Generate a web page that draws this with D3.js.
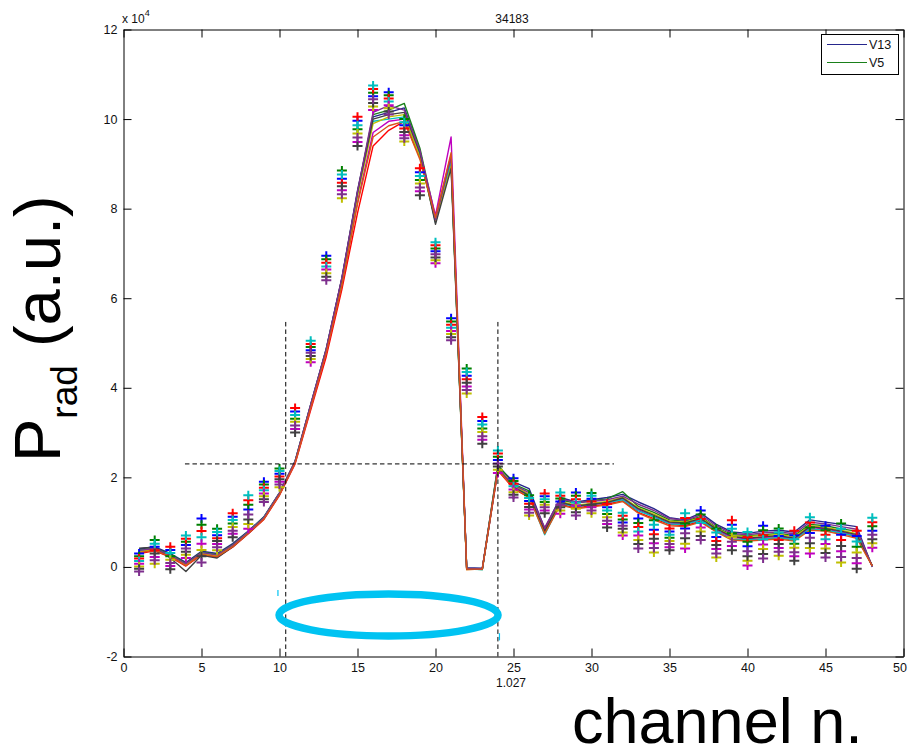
<!DOCTYPE html>
<html>
<head>
<meta charset="utf-8">
<script src="https://cdn.jsdelivr.net/npm/d3@7"></script>
<style>
  html, body { margin: 0; padding: 0; background: #fff; }
  svg { display: block; font-family: "Liberation Sans", Arial, Helvetica, sans-serif; }
</style>
</head>
<body>
<svg id="chart" width="908" height="747"></svg>
<script>
// ---- channel axis and tick values ----
const channels = [1,2,3,4,5,6,7,8,9,10,11,12,13,14,15,16,17,18,19,20,21,22,23,24,
                  25,26,27,28,29,30,31,32,33,34,35,36,37,38,39,40,41,42,43,44,45,46,47,48];
const xTicks = [0,5,10,15,20,25,30,35,40,45,50];
const yTicks = [-2,0,2,4,6,8,10,12];
const plotTitle = "34183";
const xNote = "1.027";

// ---- radiated power traces (units of 1e4) ----
const traceV13 = [0.40,0.45,0.30,0.10,0.35,0.30,0.52,0.80,1.12,1.66,2.36,3.62,4.88,6.45,8.40,10.05,10.15,10.25,9.30,7.70,9.00,-0.02,-0.03,2.25,
                  1.90,1.75,0.85,1.55,1.45,1.50,1.55,1.62,1.45,1.30,1.10,1.05,1.20,0.95,0.78,0.75,0.80,0.82,0.78,1.05,1.00,0.95,0.90,0.00];
const traceV5  = [0.38,0.42,0.28,0.08,0.33,0.28,0.50,0.79,1.11,1.65,2.34,3.58,4.84,6.42,8.35,10.10,10.20,10.35,9.35,7.80,9.05,-0.04,-0.06,2.28,
                  1.85,1.70,0.75,1.50,1.42,1.48,1.52,1.68,1.35,1.22,1.05,1.02,1.12,0.88,0.72,0.70,0.72,0.75,0.70,0.95,0.92,0.85,0.80,0.02];
const traceV7  = [0.30,0.36,0.22,0.02,0.27,0.22,0.44,0.74,1.06,1.60,2.30,3.50,4.70,6.20,7.90,9.40,9.75,9.95,9.15,7.80,9.20,-0.06,-0.05,2.15,
                  1.75,1.55,0.85,1.40,1.32,1.36,1.40,1.48,1.22,1.08,0.95,0.92,1.02,0.80,0.62,0.60,0.63,0.65,0.60,0.85,0.82,0.75,0.68,0.03];
const traceV9  = [0.33,0.38,0.24,0.04,0.29,0.24,0.46,0.76,1.08,1.62,2.33,3.56,4.80,6.32,8.15,9.70,9.95,10.00,9.25,7.85,9.60,-0.05,-0.04,2.18,
                  1.78,1.58,0.82,1.43,1.35,1.39,1.43,1.52,1.28,1.12,0.98,0.96,1.05,0.83,0.66,0.63,0.66,0.68,0.63,0.88,0.85,0.78,0.70,0.02];
const traceV11 = [0.36,0.40,0.26,0.06,0.31,0.26,0.48,0.78,1.10,1.64,2.36,3.62,4.86,6.42,8.32,9.95,10.00,10.05,9.20,7.70,9.05,-0.05,-0.06,2.20,
                  1.80,1.58,0.72,1.42,1.35,1.40,1.44,1.50,1.25,1.12,0.96,0.95,1.05,0.80,0.62,0.60,0.62,0.66,0.60,0.85,0.82,0.76,0.68,0.02];
const traceV15 = [0.34,0.39,0.25,0.05,0.30,0.25,0.47,0.77,1.09,1.64,2.35,3.60,4.85,6.38,8.28,9.90,10.05,10.10,9.15,7.72,8.95,-0.06,-0.05,2.22,
                  1.82,1.62,0.78,1.46,1.38,1.42,1.46,1.56,1.32,1.18,1.02,1.00,1.10,0.86,0.70,0.68,0.70,0.72,0.68,0.92,0.88,0.82,0.74,0.02];
const traceV17 = [0.42,0.44,0.20,-0.10,0.26,0.20,0.45,0.75,1.08,1.63,2.35,3.61,4.86,6.44,8.36,10.00,10.10,10.15,9.25,7.65,8.90,-0.05,-0.05,2.21,
                  1.78,1.60,0.80,1.44,1.36,1.40,1.44,1.54,1.30,1.15,1.00,0.98,1.08,0.85,0.68,0.64,0.67,0.70,0.64,0.90,0.86,0.80,0.72,0.02];
const traceV19 = [0.37,0.41,0.26,0.07,0.32,0.27,0.49,0.78,1.10,1.65,2.36,3.63,4.87,6.46,8.38,10.15,10.30,10.20,9.30,7.75,9.15,-0.04,-0.05,2.19,
                  1.83,1.66,0.88,1.52,1.44,1.46,1.50,1.58,1.40,1.26,1.08,1.04,1.16,0.92,0.75,0.72,0.76,0.78,0.74,1.00,0.96,0.90,0.84,0.01];
const traceV21 = [0.32,0.37,0.23,0.03,0.28,0.23,0.45,0.75,1.07,1.61,2.32,3.55,4.78,6.28,8.10,9.60,9.85,9.95,9.10,7.80,9.25,-0.05,-0.05,2.17,
                  1.76,1.55,0.74,1.38,1.30,1.34,1.38,1.46,1.20,1.05,0.92,0.90,1.00,0.78,0.60,0.58,0.60,0.62,0.58,0.82,0.80,0.72,0.64,0.02];

// ---- per-channel measured points (units of 1e4) ----
const points1 = [0.30,0.45,0.38,0.49,1.08,0.71,1.12,1.28,1.90,2.08,3.47,4.84,6.95,8.67,9.96,10.51,10.60,9.86,8.81,7.05,5.55,4.27,3.26,2.39,
                 1.98,1.47,1.58,1.46,1.66,1.52,1.33,0.99,1.08,0.83,0.79,0.86,1.26,0.67,0.94,0.46,0.92,0.69,0.71,0.76,0.92,0.72,0.69,0.81];
const points2 = [0.24,0.60,0.24,0.56,0.94,0.85,0.97,1.39,1.84,2.20,3.31,4.91,6.87,8.85,9.77,10.59,10.53,10.00,8.64,7.11,5.48,4.43,3.09,2.46,
                 1.92,1.60,1.45,1.53,1.59,1.65,1.18,1.06,0.98,1.04,0.65,0.97,1.17,0.86,0.75,0.56,0.82,0.86,0.52,0.88,0.82,0.97,0.45,0.91];
const points3 = [0.19,0.37,0.45,0.63,0.80,0.64,1.20,1.49,1.77,2.02,3.55,4.98,6.79,8.58,10.05,10.67,10.46,9.79,8.90,7.18,5.41,4.19,3.35,2.53,
                 1.86,1.41,1.64,1.59,1.51,1.46,1.41,1.14,0.89,0.73,0.86,1.09,1.07,0.58,1.04,0.67,0.71,0.60,0.81,0.99,0.72,0.60,0.81,1.00];
const points4 = [0.13,0.52,0.31,0.70,0.66,0.78,1.05,1.60,1.71,2.14,3.39,5.05,6.71,8.76,9.86,10.75,10.39,9.93,8.73,7.25,5.34,4.35,3.18,2.60,
                 1.80,1.54,1.51,1.66,1.44,1.59,1.26,1.21,0.79,0.94,0.72,1.20,0.98,0.77,0.85,0.78,0.61,0.77,0.62,1.11,0.62,0.85,0.57,1.10];
const points5 = [0.07,0.22,0.02,0.20,0.52,0.51,0.74,0.85,1.64,1.90,3.08,4.57,6.64,8.41,9.49,10.20,10.31,9.64,8.39,6.78,5.27,4.03,2.84,2.10,
                 1.73,1.28,1.26,1.19,1.37,1.33,0.96,0.70,0.70,0.53,0.44,0.41,0.88,0.40,0.47,0.03,0.50,0.42,0.24,0.30,0.51,0.35,0.08,0.43];
const points6 = [0.01,0.07,0.16,0.27,0.38,0.37,0.89,0.96,1.58,1.78,3.24,4.64,6.56,8.23,9.68,10.28,10.24,9.50,8.56,6.85,5.20,3.87,3.01,2.17,
                 1.67,1.15,1.39,1.26,1.30,1.20,1.11,0.77,0.60,0.32,0.58,0.52,0.79,0.21,0.66,0.14,0.40,0.25,0.43,0.42,0.41,0.10,0.32,0.53];
const points7 = [-0.04,0.30,-0.05,0.34,0.24,0.58,0.66,1.06,1.51,1.96,3.00,4.71,6.48,8.50,9.40,10.36,10.17,9.71,8.30,6.91,5.13,4.11,2.75,2.24,
                 1.61,1.34,1.20,1.33,1.22,1.39,0.88,0.85,0.51,0.63,0.37,0.64,0.69,0.49,0.37,0.24,0.29,0.51,0.14,0.53,0.31,0.47,-0.04,0.62];
const points8 = [-0.10,0.15,0.09,0.41,0.10,0.44,0.81,1.17,1.45,1.84,3.16,4.78,6.40,8.32,9.59,10.44,10.10,9.57,8.47,6.98,5.06,3.95,2.92,2.31,
                 1.55,1.21,1.33,1.39,1.15,1.26,1.03,0.92,0.41,0.42,0.51,0.75,0.60,0.30,0.56,0.35,0.19,0.34,0.33,0.65,0.21,0.22,0.20,0.72];

// ---- guide lines and highlighted region (data units) ----
const edgeChannels = [10.4, 24.0];
const edgeTop = 5.47;
const levelValue = 2.3;
const levelSpan = [3.94, 31.44];
const regionCenter = [16.99, -1.073];
const regionRadii = [7.02, 0.469];
const regionMarks = [[9.9, -0.515, -0.65], [24.1, -1.48, -1.64]];

// ---- legend ----
const legendNames = ["V13", "V5"];

// ---- drawing ----
const traceColors = ["#26268c", "#1a801a", "#ff0000", "#bf00bf", "#00bfbf", "#bfbf00", "#404040", "#7e2f8e", "#d95319"];
const traces = [traceV13, traceV5, traceV7, traceV9, traceV11, traceV15, traceV17, traceV19, traceV21];
const pointColors = ["#0000ff", "#008000", "#ff0000", "#00bfbf", "#bf00bf", "#bfbf00", "#404040", "#7e2f8e"];
const pointSets = [points1, points2, points3, points4, points5, points6, points7, points8];

const svg = d3.select("#chart");
const x = d3.scaleLinear().domain([0, 50]).range([123.5, 903.5]);
const y = d3.scaleLinear().domain([-2, 12]).range([656.5, 29.5]);

// white background
svg.append("rect").attr("width", 908).attr("height", 747).attr("fill", "#fff");

const plot = svg.append("g");

// traces
const line = d3.line().x((d, i) => x(channels[i])).y(d => y(d));
plot.selectAll("path.trace").data(traces).join("path")
  .attr("class", "trace")
  .attr("d", d => line(d))
  .attr("fill", "none")
  .attr("stroke", (d, i) => traceColors[i])
  .attr("stroke-width", 1.4)
  .attr("stroke-linejoin", "round");

// plus markers
pointSets.forEach((set, k) => {
  plot.append("g").selectAll("path").data(set).join("path")
    .attr("d", (v, i) => {
      const cx = x(channels[i]), cy = y(v);
      return `M${cx - 5},${cy}h10M${cx},${cy - 4.5}v9`;
    })
    .attr("stroke", pointColors[k])
    .attr("stroke-width", 2)
    .attr("fill", "none");
});

// dashed guides
const dash = "4.5,3";
edgeChannels.forEach(c => {
  plot.append("line")
    .attr("x1", x(c)).attr("x2", x(c))
    .attr("y1", y(edgeTop)).attr("y2", y(-2))
    .attr("stroke", "#000").attr("stroke-width", 1).attr("stroke-dasharray", dash);
});
plot.append("line")
  .attr("x1", x(levelSpan[0])).attr("x2", x(levelSpan[1]))
  .attr("y1", y(levelValue)).attr("y2", y(levelValue))
  .attr("stroke", "#000").attr("stroke-width", 1).attr("stroke-dasharray", dash);

// axes with inward ticks on all four sides
const fmt = d => String(d);
const axisG = svg.append("g");
const axBottom = axisG.append("g").attr("transform", `translate(0,${y(-2)})`)
  .call(d3.axisBottom(x).tickValues(xTicks).tickFormat(fmt).tickSizeInner(-8).tickSizeOuter(0).tickPadding(7));
const axLeft = axisG.append("g").attr("transform", `translate(${x(0)},0)`)
  .call(d3.axisLeft(y).tickValues(yTicks).tickFormat(fmt).tickSizeInner(-8).tickSizeOuter(0).tickPadding(6));
const axTop = axisG.append("g").attr("transform", `translate(0,${y(12)})`)
  .call(d3.axisTop(x).tickValues(xTicks).tickSizeInner(-8).tickSizeOuter(0).tickFormat(""));
const axRight = axisG.append("g").attr("transform", `translate(${x(50)},0)`)
  .call(d3.axisRight(y).tickValues(yTicks).tickSizeInner(-8).tickSizeOuter(0).tickFormat(""));
[axBottom, axLeft, axTop, axRight].forEach(g => {
  g.attr("font-family", null).attr("font-size", 12.5);
  g.selectAll("text").attr("fill", "#111");
  g.selectAll("line,path").attr("stroke", "#000").attr("stroke-width", 1);
});
// keep the last channel label inside the page
axBottom.selectAll(".tick").filter(d => d === 50).select("text").attr("text-anchor", "end").attr("dx", 3);

// exponent label
const expo = svg.append("text").attr("x", 122).attr("y", 23).attr("font-size", 12).attr("fill", "#111");
expo.append("tspan").text("x 10");
expo.append("tspan").attr("dy", -7).attr("font-size", 9).text("4");

// title and note
svg.append("text").attr("x", 512).attr("y", 23).attr("text-anchor", "middle")
  .attr("font-size", 12).attr("fill", "#111").text(plotTitle);
svg.append("text").attr("x", 511).attr("y", 687).attr("text-anchor", "middle")
  .attr("font-size", 12).attr("fill", "#111").text(xNote);

// legend
const lg = svg.append("g");
lg.append("rect").attr("x", 821.5).attr("y", 34.5).attr("width", 77).attr("height", 40)
  .attr("fill", "#fff").attr("stroke", "#000").attr("stroke-width", 1);
legendNames.forEach((name, i) => {
  const ly = 44.5 + i * 18;
  lg.append("line").attr("x1", 827).attr("x2", 867).attr("y1", ly).attr("y2", ly)
    .attr("stroke", traceColors[i]).attr("stroke-width", 1.2);
  lg.append("text").attr("x", 869).attr("y", ly + 4.5).attr("font-size", 12.5)
    .attr("fill", "#111").text(name);
});

// highlighted region
svg.append("ellipse")
  .attr("cx", x(regionCenter[0])).attr("cy", y(regionCenter[1]))
  .attr("rx", x(regionRadii[0]) - x(0)).attr("ry", y(0) - y(regionRadii[1]))
  .attr("fill", "none").attr("stroke", "#00c3f2").attr("stroke-width", 7.5);
regionMarks.forEach(m => {
  svg.append("line").attr("x1", x(m[0])).attr("x2", x(m[0]))
    .attr("y1", y(m[1])).attr("y2", y(m[2]))
    .attr("stroke", "#00c3f2").attr("stroke-width", 1.2);
});

// axis titles
const yl = svg.append("text").attr("transform", "translate(60,462) rotate(-90)")
  .attr("font-size", 65).attr("fill", "#000");
yl.append("tspan").text("P");
yl.append("tspan").attr("font-size", 37).attr("dy", 17).text("rad");
yl.append("tspan").attr("dy", -17).text("\u00a0(a.u.)");

svg.append("text").attr("x", 572).attr("y", 743).attr("font-size", 63)
  .attr("fill", "#000").text("channel n.");
</script>
</body>
</html>
